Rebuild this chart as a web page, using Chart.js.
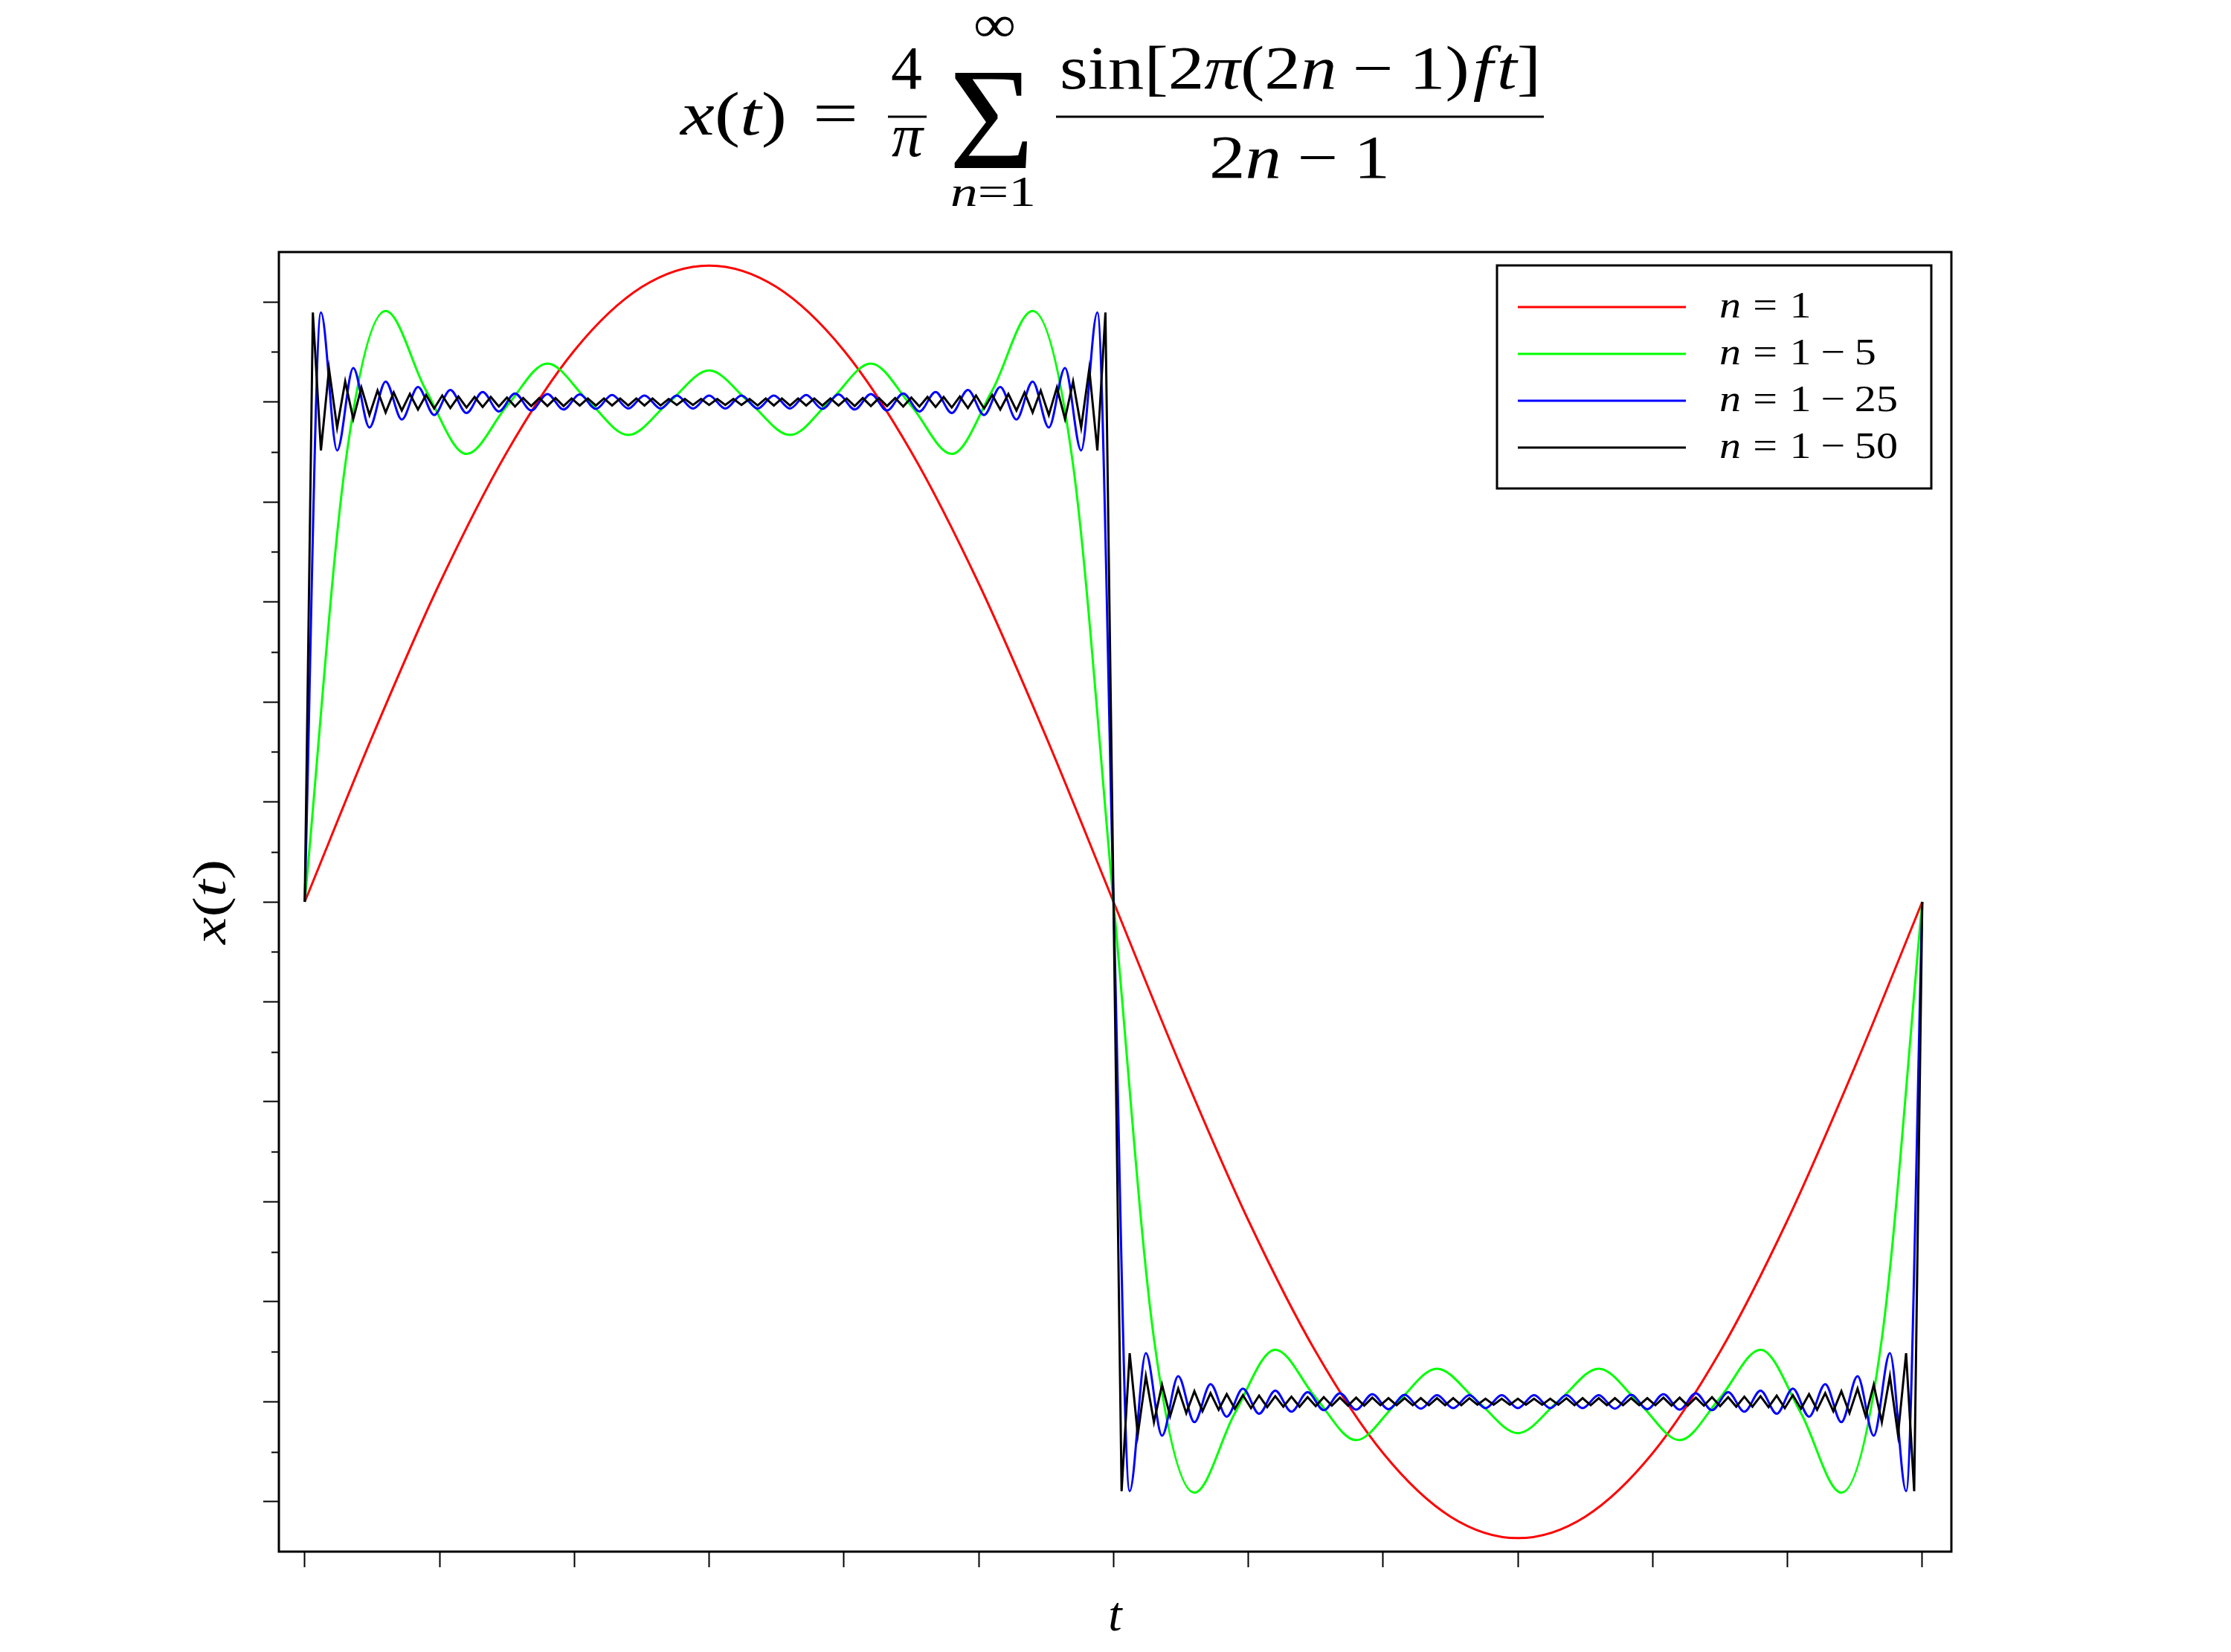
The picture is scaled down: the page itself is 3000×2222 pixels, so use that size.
<!DOCTYPE html>
<html>
<head>
<meta charset="utf-8">
<script src="https://cdn.jsdelivr.net/npm/chart.js@4.4.0/dist/chart.umd.min.js"></script>
<style>
  html, body { margin: 0; padding: 0; background: #fff; }
</style>
</head>
<body>
<canvas id="chart" width="3000" height="2222"></canvas>
<script>
// Every series is sampled at an even step in t (one period, t = 0 .. 1).
// Values are read off the plot: turning points of each partial sum.
const redStep = 1 / 24;
const redValues = [
  0, 0.330, 0.637, 0.900, 1.103, 1.230, 1.273, 1.230, 1.103, 0.900, 0.637, 0.330,
  0, -0.330, -0.637, -0.900, -1.103, -1.230, -1.273, -1.230, -1.103, -0.900, -0.637, -0.330, 0
];

const greenStep = 1 / 40;
const greenValues = [
  0, 0.874, 1.182, 1.023, 0.896, 0.992, 1.077, 1.003, 0.934, 0.999,
  1.063, 0.999, 0.934, 1.003, 1.077, 0.992, 0.896, 1.023, 1.182, 0.874,
  0,
  -0.874, -1.182, -1.023, -0.896, -0.992, -1.077, -1.003, -0.934, -0.999,
  -1.063, -0.999, -0.934, -1.003, -1.077, -0.992, -0.896, -1.023, -1.182, -0.874,
  0
];

const blueStep = 0.01;
const blueValues = [
  0, 1.179, 0.903, 1.068, 0.949, 1.041, 0.965, 1.030, 0.974, 1.024,
  0.978, 1.020, 0.981, 1.017, 0.983, 1.016, 0.985, 1.015, 0.986, 1.014,
  0.987, 1.013, 0.987, 1.013, 0.987, 1.013, 0.987, 1.013, 0.987, 1.013,
  0.987, 1.014, 0.986, 1.015, 0.985, 1.016, 0.983, 1.017, 0.981, 1.020,
  0.978, 1.024, 0.974, 1.030, 0.965, 1.041, 0.949, 1.068, 0.903, 1.179,
  0,
  -1.179, -0.903, -1.068, -0.949, -1.041, -0.965, -1.030, -0.974, -1.024, -0.978,
  -1.020, -0.981, -1.017, -0.983, -1.016, -0.985, -1.015, -0.986, -1.014, -0.987,
  -1.013, -0.987, -1.013, -0.987, -1.013, -0.987, -1.013, -0.987, -1.013, -0.987,
  -1.014, -0.986, -1.015, -0.985, -1.016, -0.983, -1.017, -0.981, -1.020, -0.978,
  -1.024, -0.974, -1.030, -0.965, -1.041, -0.949, -1.068, -0.903, -1.179, 0
];

const blackStep = 0.005;
const blackValues = [
  0, 1.179, 0.903, 1.066, 0.949, 1.041, 0.966, 1.029, 0.974, 1.023,
  0.979, 1.019, 0.983, 1.016, 0.985, 1.014, 0.987, 1.013, 0.988, 1.011,
  0.989, 1.010, 0.990, 1.010, 0.991, 1.009, 0.991, 1.008, 0.992, 1.008,
  0.992, 1.008, 0.992, 1.007, 0.993, 1.007, 0.993, 1.007, 0.993, 1.007,
  0.993, 1.007, 0.993, 1.007, 0.993, 1.006, 0.994, 1.006, 0.994, 1.006,
  0.994, 1.006, 0.994, 1.006, 0.994, 1.006, 0.993, 1.007, 0.993, 1.007,
  0.993, 1.007, 0.993, 1.007, 0.993, 1.007, 0.993, 1.007, 0.992, 1.008,
  0.992, 1.008, 0.992, 1.008, 0.991, 1.009, 0.991, 1.010, 0.990, 1.010,
  0.989, 1.011, 0.988, 1.013, 0.987, 1.014, 0.985, 1.016, 0.983, 1.019,
  0.979, 1.023, 0.974, 1.029, 0.966, 1.041, 0.949, 1.066, 0.903, 1.179,
  0,
  -1.179, -0.903, -1.066, -0.949, -1.041, -0.966, -1.029, -0.974, -1.023, -0.979,
  -1.019, -0.983, -1.016, -0.985, -1.014, -0.987, -1.013, -0.988, -1.011, -0.989,
  -1.010, -0.990, -1.010, -0.991, -1.009, -0.991, -1.008, -0.992, -1.008, -0.992,
  -1.008, -0.992, -1.007, -0.993, -1.007, -0.993, -1.007, -0.993, -1.007, -0.993,
  -1.007, -0.993, -1.007, -0.993, -1.006, -0.994, -1.006, -0.994, -1.006, -0.994,
  -1.006, -0.994, -1.006, -0.994, -1.006, -0.993, -1.007, -0.993, -1.007, -0.993,
  -1.007, -0.993, -1.007, -0.993, -1.007, -0.993, -1.007, -0.992, -1.008, -0.992,
  -1.008, -0.992, -1.008, -0.991, -1.009, -0.991, -1.010, -0.990, -1.010, -0.989,
  -1.011, -0.988, -1.013, -0.987, -1.014, -0.985, -1.016, -0.983, -1.019, -0.979,
  -1.023, -0.974, -1.029, -0.966, -1.041, -0.949, -1.066, -0.903, -1.179, 0
];

// tick marks (no tick labels in the original)
const xTicks = [0, 1/12, 2/12, 3/12, 4/12, 5/12, 6/12, 7/12, 8/12, 9/12, 10/12, 11/12, 1];
const yMajorTicks = [-1.2, -1.0, -0.8, -0.6, -0.4, -0.2, 0, 0.2, 0.4, 0.6, 0.8, 1.0, 1.2];
const yMinorTicks = [-1.1, -0.9, -0.7, -0.5, -0.3, -0.1, 0.1, 0.3, 0.5, 0.7, 0.9, 1.1];

const legendLabels = [['1'], ['1', '5'], ['1', '25'], ['1', '50']];
const seriesColors = ['#ff0000', '#00ff00', '#0000ff', '#000000'];

const SERIF = '"Liberation Serif", "DejaVu Serif", serif';

function makeSet(values, step, color, order, smooth) {
  return {
    data: values.map((v, i) => ({ x: i * step, y: v })),
    borderColor: color,
    borderWidth: 3,
    pointRadius: 0,
    fill: false,
    order: order,
    tension: 0,
    cubicInterpolationMode: smooth ? 'monotone' : 'default'
  };
}

// draw a row of [text, italic, gapBefore(em)] pieces, squeezed/stretched to width
function drawMath(ctx, runs, x, y, size, width) {
  ctx.save();
  let natural = 0;
  runs.forEach(r => {
    ctx.font = (r[1] ? 'italic ' : '') + size + 'px ' + SERIF;
    natural += ctx.measureText(r[0]).width + (r[2] || 0) * size;
  });
  const sx = width ? width / natural : 1;
  ctx.translate(x, y);
  ctx.scale(sx, 1);
  ctx.fillStyle = '#000';
  ctx.textBaseline = 'alphabetic';
  ctx.textAlign = 'left';
  let cx = 0;
  runs.forEach(r => {
    ctx.font = (r[1] ? 'italic ' : '') + size + 'px ' + SERIF;
    cx += (r[2] || 0) * size;
    ctx.fillText(r[0], cx, 0);
    cx += ctx.measureText(r[0]).width;
  });
  ctx.restore();
  return natural;
}

function hline(ctx, x1, x2, y, w) {
  ctx.beginPath();
  ctx.lineWidth = w;
  ctx.strokeStyle = '#000';
  ctx.moveTo(x1, y);
  ctx.lineTo(x2, y);
  ctx.stroke();
}

const framePlugin = {
  id: 'frame',
  afterDatasetsDraw(chart) {
    const { ctx, chartArea: a, scales } = chart;
    ctx.save();
    ctx.strokeStyle = '#000';
    ctx.lineWidth = 3;
    ctx.strokeRect(a.left, a.top, a.right - a.left, a.bottom - a.top);
    // minor ticks on the y axis
    ctx.lineWidth = 2;
    yMinorTicks.forEach(v => {
      const y = Math.round(scales.y.getPixelForValue(v)) + 0.5;
      ctx.beginPath();
      ctx.moveTo(a.left - 10, y);
      ctx.lineTo(a.left, y);
      ctx.stroke();
    });
    ctx.restore();
  }
};

const textPlugin = {
  id: 'texts',
  afterDraw(chart) {
    const { ctx, chartArea: a } = chart;

    // title formula
    drawMath(ctx, [['x', true], ['(', false], ['t', true], [')', false]], 915, 181, 82, 143);
    drawMath(ctx, [['=', false]], 1093, 180, 82, 61);
    drawMath(ctx, [['4', false]], 1198, 119, 82, 42);
    hline(ctx, 1194, 1246, 157, 3);
    drawMath(ctx, [['π', true]], 1199, 210, 82, 42);
    drawMath(ctx, [['Σ', false]], 1276, 226, 196, 115);
    drawMath(ctx, [['∞', false]], 1309, 56, 70, 57);
    drawMath(ctx, [['n', true], ['=', false], ['1', false]], 1278, 277, 58, 115);
    drawMath(ctx, [
      ['sin', false], ['[', false], ['2', false], ['π', true], ['(', false], ['2', false], ['n', true],
      ['−', false, 0.22], ['1', false, 0.22], [')', false], ['f', true, 0.05], ['t', true, 0.05], [']', false]
    ], 1425, 119, 82, 647);
    hline(ctx, 1420, 2076, 157, 3);
    drawMath(ctx, [['2', false], ['n', true], ['−', false, 0.22], ['1', false, 0.22]], 1626, 239, 82, 243);

    // legend
    ctx.save();
    ctx.fillStyle = '#fff';
    ctx.fillRect(2013, 357, 584, 300);
    ctx.strokeStyle = '#000';
    ctx.lineWidth = 3;
    ctx.strokeRect(2013, 357, 584, 300);
    ctx.restore();
    const rows = legendLabels.map(parts => {
      const runs = [['n', true], ['=', false, 0.28], [parts[0], false, 0.28]];
      if (parts[1]) runs.push(['−', false, 0.22], [parts[1], false, 0.22]);
      return runs;
    });
    ctx.save();
    ctx.font = '50px ' + SERIF;
    ctx.restore();
    // common horizontal scale taken from the longest label
    const off = document.createElement('canvas').getContext('2d');
    const longest = drawMath(off, rows[3], 0, 0, 50, 0);
    const sx = 240 / longest;
    rows.forEach((runs, i) => {
      const ly = 413 + i * 63;
      ctx.save();
      ctx.strokeStyle = seriesColors[i];
      ctx.lineWidth = 3;
      ctx.beginPath();
      ctx.moveTo(2041, ly);
      ctx.lineTo(2267, ly);
      ctx.stroke();
      ctx.restore();
      const nat = drawMath(off, runs, 0, 0, 50, 0);
      drawMath(ctx, runs, 2312, ly + 14, 50, nat * sx);
    });

    // axis titles
    const cx = (a.left + a.right) / 2;
    ctx.save();
    ctx.font = 'italic 66px ' + SERIF;
    ctx.textAlign = 'center';
    ctx.fillStyle = '#000';
    ctx.fillText('t', cx, 2193);
    ctx.restore();

    ctx.save();
    ctx.translate(303, (a.top + a.bottom) / 2);
    ctx.rotate(-Math.PI / 2);
    drawMath(ctx, [['x', true], ['(', false], ['t', true], [')', false]], -57, 0, 64, 114);
    ctx.restore();
  }
};

const ctx = document.getElementById('chart').getContext('2d');
const chart = new Chart(ctx, {
  type: 'line',
  data: {
    datasets: [
      makeSet(redValues, redStep, seriesColors[0], 3, true),
      makeSet(greenValues, greenStep, seriesColors[1], 2, true),
      makeSet(blueValues, blueStep, seriesColors[2], 1, true),
      makeSet(blackValues, blackStep, seriesColors[3], 0, false)
    ]
  },
  options: {
    responsive: false,
    animation: false,
    devicePixelRatio: 1,
    layout: { padding: { left: 315, right: 376, top: 339, bottom: 75 } },
    plugins: {
      legend: { display: false },
      title: { display: false },
      tooltip: { enabled: false }
    },
    scales: {
      x: {
        type: 'linear',
        min: -0.016,
        max: 1.018,
        afterBuildTicks: s => { s.ticks = xTicks.map(v => ({ value: v })); },
        afterFit: s => { s.height = 60; },
        ticks: { display: false },
        border: { display: false },
        grid: { drawOnChartArea: false, drawTicks: true, tickLength: 21, tickWidth: 2, tickColor: '#000' }
      },
      y: {
        type: 'linear',
        min: -1.3,
        max: 1.3,
        afterBuildTicks: s => { s.ticks = yMajorTicks.map(v => ({ value: v })); },
        afterFit: s => { s.width = 60; },
        ticks: { display: false },
        border: { display: false },
        grid: { drawOnChartArea: false, drawTicks: true, tickLength: 21, tickWidth: 2, tickColor: '#000' }
      }
    }
  },
  plugins: [framePlugin, textPlugin]
});
</script>
</body>
</html>
